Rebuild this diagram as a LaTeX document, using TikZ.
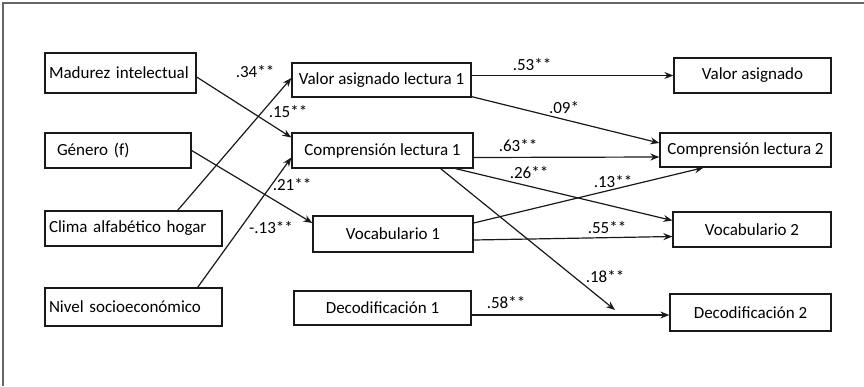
\documentclass[tikz,border=0pt]{standalone}
\usepackage{fontspec}
\setmainfont{Carlito}
\usetikzlibrary{arrows.meta}

\begin{document}
\begin{tikzpicture}[
    x=1pt, y=-1pt,
    varbox/.style={rectangle, draw=black!90, line width=1.3pt, fill=white,
        inner sep=0pt, font=\fontsize{17}{20}\selectfont},
    leftbox/.style={varbox, align=left, text width=#1-8pt},
    coef/.style={font=\fontsize{17}{20}\selectfont, inner sep=0pt},
    path/.style={line width=1.2pt, draw=black!90, -{Stealth[length=9pt, width=7pt]}}
]
    \useasboundingbox (0,0) rectangle (864,386);
    \draw[black!60, line width=2pt] (3,386) -- (3,3) -- (864,3);

    \node[leftbox=151pt, minimum width=151pt, minimum height=40pt] (mad) at (120.5,73) {Madurez intelectual};
    \node[leftbox=146pt, minimum width=146pt, minimum height=35pt] (gen) at (118,150.5) {\hspace*{8pt}Género (f)};
    \node[leftbox=177pt, minimum width=177pt, minimum height=35pt] (clima) at (133.5,228.5) {Clima alfabético hogar};
    \node[leftbox=177pt, minimum width=177pt, minimum height=38pt] (nivel) at (133.5,307) {Nivel socioeconómico};

    \node[varbox, minimum width=179pt, minimum height=34pt] (val1) at (381.5,80) {Valor asignado lectura 1};
    \node[varbox, minimum width=181pt, minimum height=35pt] (comp1) at (382.5,150.5) {Comprensión lectura 1};
    \node[varbox, minimum width=160pt, minimum height=36pt] (voc1) at (393,234) {Vocabulario 1};
    \node[varbox, minimum width=177pt, minimum height=34pt] (dec1) at (382.5,308) {Decodificación 1};

    \node[varbox, minimum width=157pt, minimum height=35pt] (val2) at (752.5,75.5) {Valor asignado};
    \node[varbox, minimum width=171pt, minimum height=34pt] (comp2) at (745.5,150) {Comprensión lectura 2};
    \node[varbox, minimum width=158pt, minimum height=35pt] (voc2) at (752,229.5) {Vocabulario 2};
    \node[varbox, minimum width=161pt, minimum height=37pt] (dec2) at (750.5,312.5) {Decodificación 2};

    \coordinate (decmid) at (615,310);

    \draw[path] ([yshift=-4pt]mad.east) -- ([yshift=13pt]comp1.west);
    \draw[path] (gen.east) -- ([yshift=11pt]voc1.west);
    \draw[path] ([xshift=-45pt]clima.north east) -- ([yshift=2pt]val1.west);
    \draw[path] ([xshift=-25pt]nivel.north east) -- ([yshift=-7pt]comp1.west);
    \draw[path] (val1.east |- val2.west) -- (val2.west);
    \draw[path] ([yshift=1pt]val1.south east) -- ([yshift=7pt]comp2.west);
    \draw[path] ([yshift=-7pt]comp1.east) -- ([yshift=-7pt]comp2.west);
    \draw[path] ([xshift=-18pt]comp1.south east) -- ([yshift=9pt]voc2.west);
    \draw[path] ([xshift=-33pt]comp1.south east) -- (decmid);
    \draw[path] ([yshift=11pt]voc1.east) -- ([xshift=-42pt]comp2.south);
    \draw[path] ([yshift=-6pt]voc1.east) -- ([yshift=-7pt]voc2.west);
    \draw[path] ([yshift=-7pt]dec1.east) -- ([yshift=-2.5pt]dec2.west);

    \node[coef] (c34) at (255,72) {.34**};
    \node[coef] (c15) at (288,112) {.15**};
    \node[coef] (c21) at (292,185) {.21**};
    \node[coef] (c13n) at (271,228) {-.13**};
    \node[coef] (c53) at (532,65) {.53**};
    \node[coef] (c09) at (564,108) {.09*};
    \node[coef] (c63) at (518,146) {.63**};
    \node[coef] (c26) at (529,173) {.26**};
    \node[coef] (c13) at (613,182) {.13**};
    \node[coef] (c55) at (607,228) {.55**};
    \node[coef] (c18) at (605,277) {.18**};
    \node[coef] (c58) at (506,303) {.58**};
\end{tikzpicture}
\end{document}
